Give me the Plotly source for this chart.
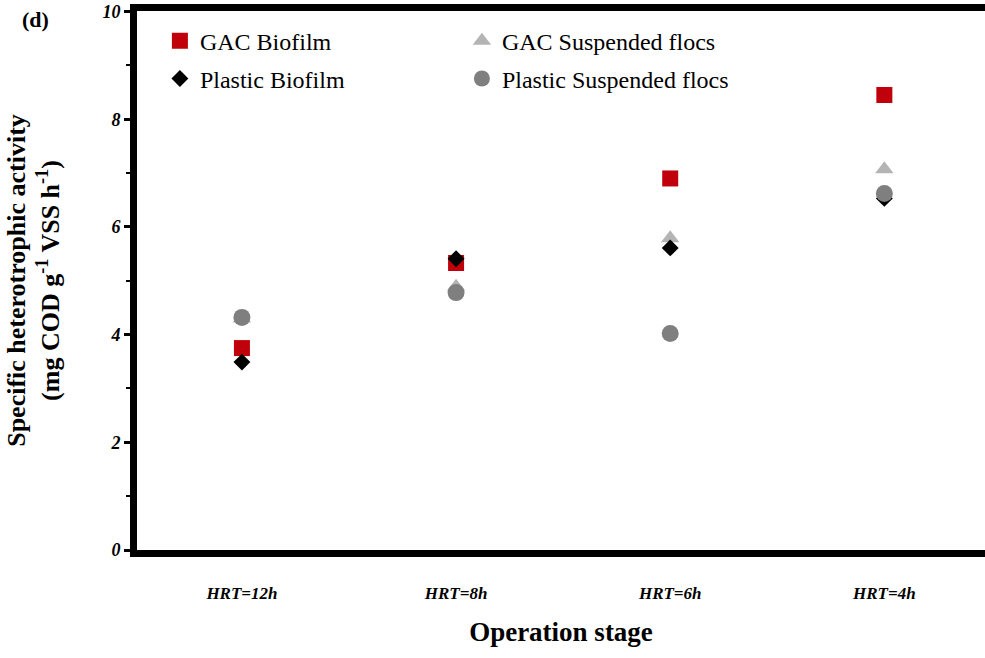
import plotly.graph_objects as go

stages = ["HRT=12h", "HRT=8h", "HRT=6h", "HRT=4h"]
gac_biofilm = [3.75, 5.33, 6.90, 8.45]
gac_susp = [4.30, 4.89, 5.79, 7.07]
plastic_biofilm = [3.49, 5.41, 5.61, 6.53]
plastic_susp = [4.32, 4.78, 4.02, 6.62]

FONT = "Liberation Serif"

fig = go.Figure()
fig.add_trace(go.Scatter(x=stages, y=gac_biofilm, mode="markers", name="GAC Biofilm",
                         marker=dict(symbol="square", size=16, color="#c0000a"), legend="legend"))
fig.add_trace(go.Scatter(x=stages, y=gac_susp, mode="markers", name="GAC Suspended flocs",
                         marker=dict(symbol="triangle-up", size=16, color="#b4b4b4"), legend="legend"))
fig.add_trace(go.Scatter(x=stages, y=plastic_biofilm, mode="markers", name="Plastic Biofilm",
                         marker=dict(symbol="diamond", size=13, color="#000000"), legend="legend2"))
fig.add_trace(go.Scatter(x=stages, y=plastic_susp, mode="markers", name="Plastic Suspended flocs",
                         marker=dict(symbol="circle", size=17, color="#7f7f7f"), legend="legend2"))

legend_common = dict(orientation="h", xanchor="left", yanchor="middle",
                     font=dict(family=FONT, size=24, color="#000"),
                     bgcolor="rgba(0,0,0,0)", entrywidth=257, itemclick=False)
fig.update_layout(
    width=985, height=658,
    margin=dict(l=137, r=0, t=11, b=108),
    plot_bgcolor="white", paper_bgcolor="white",
    font=dict(family=FONT, color="#000"),
    legend=dict(x=0.027, y=0.944, **legend_common),
    legend2=dict(x=0.027, y=0.874, **legend_common),
    xaxis=dict(
        type="category", range=[-0.49, 3.47],
        showline=True, linewidth=7, linecolor="#000", mirror=True,
        ticks="", showgrid=False, zeroline=False,
        tickfont=dict(family=FONT, size=17, color="#000", weight="bold", style="italic"),
        ticklabelstandoff=22,
        title=dict(text="Operation stage", font=dict(family=FONT, size=27, weight="bold"), standoff=22),
    ),
    yaxis=dict(
        range=[0, 10.01], tickvals=[0, 2, 4, 6, 8, 10],
        showline=True, linewidth=7, linecolor="#000", mirror=False,
        ticks="outside", ticklen=6, tickwidth=3, tickcolor="#000",
        minor=dict(ticks="outside", ticklen=4, tickwidth=2, dtick=1, tickcolor="#000", showgrid=False),
        showgrid=False, zeroline=False,
        tickfont=dict(family=FONT, size=18, color="#000", weight="bold", style="italic"),
        title=dict(text="Specific heterotrophic activity<br>(mg COD g<sup>-1</sup> VSS h<sup>-1</sup>)",
                   font=dict(family=FONT, size=26, weight="bold"), standoff=38),
    ),
    annotations=[dict(text="<b>(d)</b>", xref="paper", yref="paper", x=-0.12, y=0.985,
                      xanchor="center", yanchor="middle", showarrow=False,
                      font=dict(family=FONT, size=22, color="#000"))],
)

fig.write_html("out.html")
